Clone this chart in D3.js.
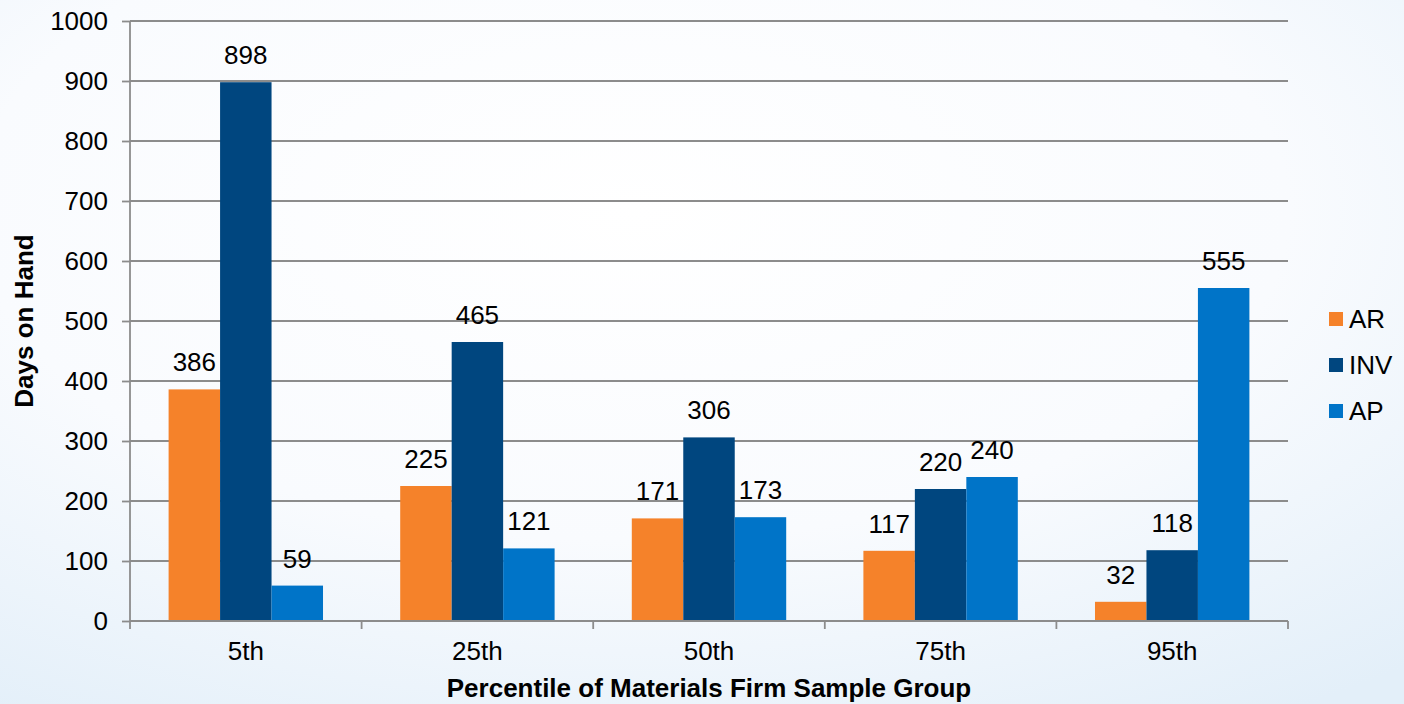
<!DOCTYPE html>
<html>
<head>
<meta charset="utf-8">
<script src="https://cdn.jsdelivr.net/npm/d3@7"></script>
<style>
  html, body { margin: 0; padding: 0; }
  body { width: 1404px; height: 704px; overflow: hidden; }
  text { font-family: "Liberation Sans", Arial, sans-serif; fill: #000; }
</style>
</head>
<body>
<div id="chart"></div>
<script>
var width = 1404;
var height = 704;

// data
var categories = ["5th", "25th", "50th", "75th", "95th"];
var seriesNames = ["AR", "INV", "AP"];
var arValues  = [386, 225, 171, 117, 32];
var invValues = [898, 465, 306, 220, 118];
var apValues  = [59, 121, 173, 240, 555];
var yTicks = [0, 100, 200, 300, 400, 500, 600, 700, 800, 900, 1000];
var colors = ["#f5822a", "#00467f", "#0074c8"];

var series = [arValues, invValues, apValues];

var margin = {left: 130, right: 116, top: 21, bottom: 83};
var fontSize = 26;

var svg = d3.select("#chart")
      .append("svg")
      .attr("width", width)
      .attr("height", height);

// soft bluish background
var defs = svg.append("defs");
var grad = defs.append("radialGradient")
      .attr("id", "bg")
      .attr("cx", "45%").attr("cy", "30%").attr("r", "85%");
grad.append("stop").attr("offset", "0%").attr("stop-color", "#ffffff");
grad.append("stop").attr("offset", "55%").attr("stop-color", "#f9fbfe");
grad.append("stop").attr("offset", "100%").attr("stop-color", "#e3eff9");

svg.append("rect")
   .attr("width", width)
   .attr("height", height)
   .attr("fill", "url(#bg)");

var x0 = d3.scaleBand()
      .domain(categories)
      .range([margin.left, width - margin.right])
      .paddingInner(0.3333)
      .paddingOuter(0.1667);

var x1 = d3.scaleBand()
      .domain(seriesNames)
      .range([0, x0.bandwidth()]);

var y = d3.scaleLinear()
      .domain([0, 1000])
      .range([height - margin.bottom, margin.top]);

var step = (width - margin.right - margin.left) / categories.length;

// gridlines
svg.append("g")
   .selectAll("line")
   .data(yTicks.slice(1))
   .enter()
   .append("line")
   .attr("x1", margin.left)
   .attr("x2", width - margin.right)
   .attr("y1", function(d){ return y(d); })
   .attr("y2", function(d){ return y(d); })
   .attr("stroke", "#8c8c8c")
   .attr("stroke-width", 1.8);

// y axis
var yAxis = d3.axisLeft(y)
      .tickValues(yTicks)
      .tickFormat(d3.format("d"))
      .tickSize(8)
      .tickPadding(14);

var yg = svg.append("g")
   .attr("transform", "translate(" + margin.left + ",0)")
   .call(yAxis);
yg.selectAll("path, line").attr("stroke", "#8c8c8c").attr("stroke-width", 1.8);
yg.select(".domain").attr("d", "M0," + y(0) + "V" + y(1000));
yg.selectAll("text")
  .attr("font-size", fontSize)
  .attr("font-family", "Liberation Sans, Arial, sans-serif")
  .attr("fill", "#000");

// bars
var groups = svg.append("g")
   .selectAll("g")
   .data(categories)
   .enter()
   .append("g")
   .attr("transform", function(d){ return "translate(" + x0(d) + ",0)"; });

groups.selectAll("rect")
   .data(function(d, i){
     return seriesNames.map(function(s, j){ return {key: s, value: series[j][i], idx: j}; });
   })
   .enter()
   .append("rect")
   .attr("x", function(d){ return x1(d.key); })
   .attr("y", function(d){ return y(d.value); })
   .attr("width", x1.bandwidth())
   .attr("height", function(d){ return y(0) - y(d.value); })
   .attr("fill", function(d){ return colors[d.idx]; });

groups.selectAll("text.val")
   .data(function(d, i){
     return seriesNames.map(function(s, j){ return {key: s, value: series[j][i]}; });
   })
   .enter()
   .append("text")
   .attr("class", "val")
   .attr("x", function(d){ return x1(d.key) + x1.bandwidth() / 2; })
   .attr("y", function(d){ return y(d.value) - 18; })
   .attr("text-anchor", "middle")
   .attr("font-size", fontSize)
   .text(function(d){ return d.value; });

// x axis
var xg = svg.append("g");
xg.append("line")
  .attr("x1", margin.left)
  .attr("x2", width - margin.right)
  .attr("y1", y(0))
  .attr("y2", y(0))
  .attr("stroke", "#8c8c8c")
  .attr("stroke-width", 1.8);

xg.selectAll("line.tick")
  .data(d3.range(categories.length + 1))
  .enter()
  .append("line")
  .attr("class", "tick")
  .attr("x1", function(i){ return margin.left + i * step; })
  .attr("x2", function(i){ return margin.left + i * step; })
  .attr("y1", y(0))
  .attr("y2", y(0) + 8)
  .attr("stroke", "#8c8c8c")
  .attr("stroke-width", 1.8);

xg.selectAll("text")
  .data(categories)
  .enter()
  .append("text")
  .attr("x", function(d){ return x0(d) + x0.bandwidth() / 2; })
  .attr("y", y(0) + 39)
  .attr("text-anchor", "middle")
  .attr("font-size", fontSize)
  .text(function(d){ return d; });

// axis titles
svg.append("text")
   .attr("x", (margin.left + width - margin.right) / 2)
   .attr("y", 697)
   .attr("text-anchor", "middle")
   .attr("font-size", fontSize)
   .attr("font-weight", "bold")
   .text("Percentile of Materials Firm Sample Group");

svg.append("text")
   .attr("transform", "translate(33," + y(500) + ") rotate(-90)")
   .attr("text-anchor", "middle")
   .attr("font-size", fontSize)
   .attr("font-weight", "bold")
   .text("Days on Hand");

// legend
var legend = svg.append("g")
   .attr("transform", "translate(1329,312)");

var rows = legend.selectAll("g")
   .data(seriesNames)
   .enter()
   .append("g")
   .attr("transform", function(d, i){ return "translate(0," + (i * 46) + ")"; });

rows.append("rect")
   .attr("width", 14)
   .attr("height", 14)
   .attr("fill", function(d, i){ return colors[i]; });

rows.append("text")
   .attr("x", 20)
   .attr("y", 16)
   .attr("font-size", fontSize)
   .text(function(d){ return d; });
</script>
</body>
</html>
